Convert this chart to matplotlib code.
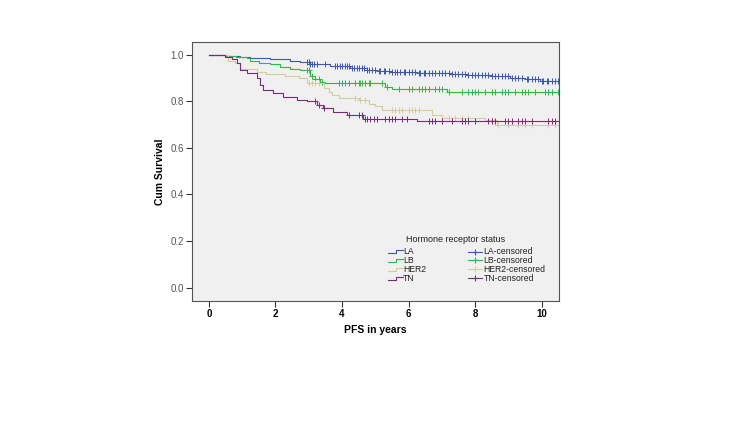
import numpy as np
import matplotlib
matplotlib.use("Agg")
import matplotlib.pyplot as plt
from matplotlib.lines import Line2D

plt.rcParams["font.family"] = ["Liberation Sans", "DejaVu Sans"]

# Kaplan-Meier step curves
groups = ["LA", "LB", "HER2", "TN"]
colors = ["#3E58AC", "#2EB848", "#D3CE97", "#7C287D"]

la_t = [0, 0.55, 0.93, 1.23, 1.83, 2.43, 2.73, 3.04, 3.64, 3.84, 4.24, 4.74, 5.04, 5.44, 6.24, 7.24, 7.75, 8.5, 9.06, 9.5, 9.95]
la_s = [1.0, 0.994, 0.99, 0.984, 0.98, 0.974, 0.967, 0.96, 0.951, 0.949, 0.942, 0.934, 0.931, 0.924, 0.92, 0.916, 0.912, 0.909, 0.901, 0.895, 0.887]

lb_t = [0, 0.5, 0.8, 1.13, 1.23, 1.5, 1.83, 2.13, 2.45, 2.73, 3.04, 3.2, 3.34, 3.45, 5.3, 5.5, 7.15]
lb_s = [1.0, 0.995, 0.99, 0.985, 0.974, 0.965, 0.959, 0.948, 0.94, 0.934, 0.906, 0.895, 0.884, 0.878, 0.863, 0.852, 0.841]

her2_t = [0, 0.58, 0.78, 0.93, 1.43, 1.7, 2.3, 2.7, 2.94, 3.45, 3.6, 3.7, 3.9, 4.5, 4.8, 5.0, 5.2, 6.7, 7.0, 8.3, 8.65]
her2_s = [1.0, 0.974, 0.963, 0.94, 0.925, 0.917, 0.91, 0.899, 0.877, 0.855, 0.841, 0.825, 0.813, 0.806, 0.79, 0.778, 0.763, 0.741, 0.73, 0.72, 0.70]

tn_t = [0, 0.48, 0.68, 0.83, 0.93, 1.13, 1.43, 1.53, 1.63, 1.93, 2.23, 2.64, 2.94, 3.24, 3.44, 3.74, 4.14, 4.64, 6.24]
tn_s = [1.0, 0.99, 0.983, 0.963, 0.934, 0.92, 0.899, 0.87, 0.848, 0.834, 0.817, 0.806, 0.80, 0.784, 0.77, 0.755, 0.741, 0.724, 0.714]

# censored observations (years)
la_c = [2.95, 3.0, 3.05, 3.1, 3.15, 3.25, 3.5, 3.8, 3.85, 3.95, 4.0, 4.1, 4.15, 4.2, 4.3, 4.35, 4.45,
        4.5, 4.6, 4.65, 4.75, 4.8, 4.9, 5.0, 5.1, 5.15, 5.25, 5.3, 5.4, 5.5, 5.6, 5.65, 5.75, 5.85,
        5.9, 6.0, 6.1, 6.2, 6.3, 6.35, 6.45, 6.5, 6.6, 6.7, 6.8, 6.9, 7.0, 7.1, 7.2, 7.3, 7.4, 7.5,
        7.6, 7.7, 7.8, 7.9, 8.0, 8.1, 8.2, 8.3, 8.4, 8.5, 8.6, 8.7, 8.8, 8.9, 9.0, 9.1, 9.2, 9.3,
        9.4, 9.55, 9.6, 9.7, 9.8, 9.9, 10.0, 10.05, 10.15, 10.2, 10.3, 10.4, 10.5]
lb_c = [2.95, 3.0, 3.1, 3.2, 3.3, 3.4, 3.9, 4.0, 4.1, 4.2, 4.4, 4.5, 4.55, 4.6, 4.7, 4.8, 4.85,
        5.2, 5.35, 5.7, 6.0, 6.1, 6.3, 6.4, 6.5, 6.6, 6.8, 6.9, 7.0, 7.2, 7.6, 7.8, 7.9, 8.0,
        8.1, 8.3, 8.5, 8.6, 8.8, 8.9, 9.0, 9.2, 9.4, 9.5, 9.6, 9.8, 10.1, 10.2, 10.3, 10.5]
her2_c = [3.0, 3.1, 3.2, 3.3, 4.4, 4.55, 4.7, 5.5, 5.6, 5.7, 5.8, 6.0, 6.1, 6.2, 6.3, 7.2, 7.4,
          7.6, 7.8, 8.5, 8.7, 9.0, 9.3, 9.5, 9.7, 10.2, 10.4]
tn_c = [3.2, 3.3, 3.45, 4.2, 4.5, 4.6, 4.7, 4.75, 4.85, 4.95, 5.05, 5.3, 5.4, 5.5, 5.6, 5.8, 5.95,
        6.6, 6.7, 6.8, 7.0, 7.3, 7.6, 7.7, 7.8, 8.0, 8.4, 8.5, 8.6, 8.9, 9.0, 9.1, 9.3, 9.4,
        9.5, 9.7, 10.2, 10.3, 10.4]

curves = [(la_t, la_s, la_c), (lb_t, lb_s, lb_c), (her2_t, her2_s, her2_c), (tn_t, tn_s, tn_c)]
x_end = 10.52

fig = plt.figure(figsize=(7.45, 4.23), dpi=100)
ax = fig.add_axes([0.2577, 0.2891, 0.4926, 0.6116])
ax.set_facecolor("#F0F0F0")

for (t, s, c), col in zip(curves, colors):
    tt = list(t) + [x_end]
    ss = list(s) + [s[-1]]
    ax.step(tt, ss, where="post", color=col, lw=0.8)
    idx = np.searchsorted(t, c, side="right") - 1
    cy = np.array(s)[idx]
    ax.plot(c, cy, ls="none", marker="+", ms=4, mew=0.7, color=col)

ax.set_xlim(-0.51, x_end)
ax.set_ylim(-0.056, 1.054)
ax.set_xticks([0, 2, 4, 6, 8, 10])
ax.set_yticks([0.0, 0.2, 0.4, 0.6, 0.8, 1.0])
ax.set_yticklabels(["0.0", "0.2", "0.4", "0.6", "0.8", "1.0"])
ax.tick_params(axis="both", labelsize=7, length=4, width=0.8, color="#333333", pad=2)
ax.tick_params(axis="y", labelcolor="#555555")
for lab in ax.get_xticklabels():
    lab.set_fontweight("bold")
for sp in ax.spines.values():
    sp.set_color("#555555")
    sp.set_linewidth(0.8)

ax.set_xlabel("PFS in years", fontsize=7.5, fontweight="bold", labelpad=4)
ax.set_ylabel("Cum Survival", fontsize=7.5, fontweight="bold", labelpad=4)

# legend drawn by hand (SPSS style)
tr = ax.transAxes
ax.text(0.717, 0.236, "Hormone receptor status", transform=tr, fontsize=6.5, ha="center", va="center", color="#222222")
rows = [0.189, 0.157, 0.121, 0.087]
for g, col, y in zip(groups, colors, rows):
    x0 = 0.534
    ax.add_line(Line2D([x0, x0 + 0.022, x0 + 0.022, x0 + 0.041], [y - 0.006, y - 0.006, y + 0.006, y + 0.006],
                       transform=tr, color=col, lw=0.8))
    ax.text(x0 + 0.041, y, g, transform=tr, fontsize=6.2, va="center", color="#222222")
    x1 = 0.753
    ax.add_line(Line2D([x1, x1 + 0.036], [y, y], transform=tr, color=col, lw=0.8))
    ax.plot([x1 + 0.018], [y], transform=tr, marker="+", ms=4.5, mew=0.8, color=col)
    ax.text(x1 + 0.041, y, g + "-censored", transform=tr, fontsize=6.2, va="center", color="#222222")

fig.savefig("out.png", dpi=100)
